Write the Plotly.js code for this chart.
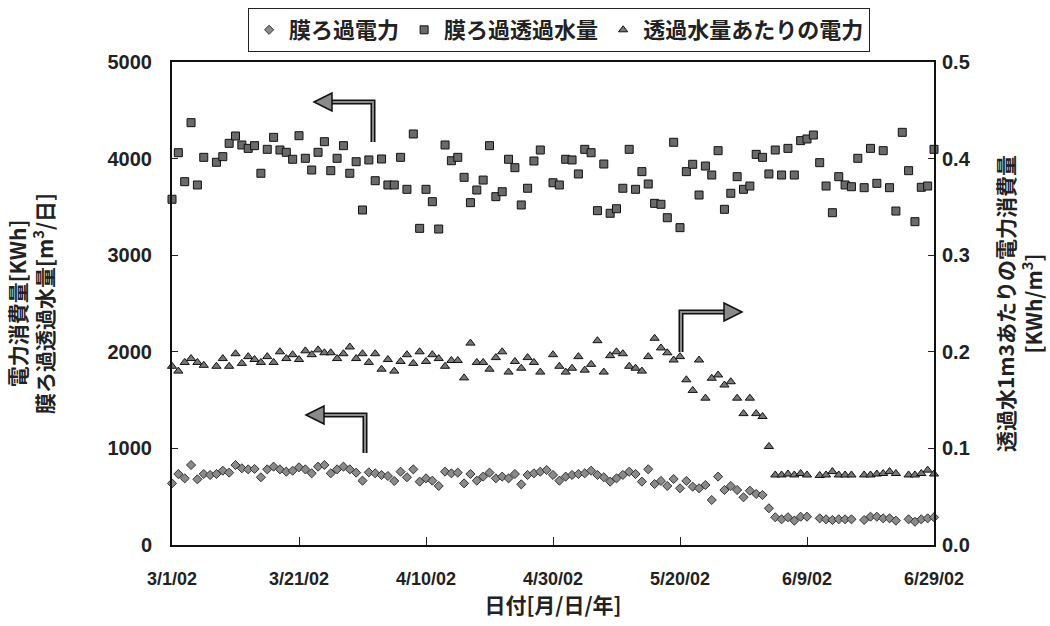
<!DOCTYPE html>
<html>
<head>
<meta charset="utf-8">
<script src="https://cdn.plot.ly/plotly-3.0.1.min.js"></script>
<style>html,body{margin:0;padding:0;background:#fff;}#chart{width:1050px;height:626px;}</style>
</head>
<body>
<div id="chart"></div>
<script>
// ---- data (index = day offset from 2002-03-01) ----
const startDate = '2002-03-01';
const dayCount = 121;

const seriesNames = ['膜ろ過電力', '膜ろ過透過水量', '透過水量あたりの電力'];

// 膜ろ過電力 [KWh]
const powerKWh = [
  638, 735, 690, 828, 680, 735, 725, 735, 769, 749,
  828, 794, 783, 787, 701, 783, 811, 783, 759, 769,
  804, 783, 742, 811, 828, 742, 783, 811, 783, 749,
  666, 752, 742, 725, 714, 663, 759, 701, 783, 656,
  690, 666, 611, 759, 742, 749, 638, 735, 666, 708,
  749, 690, 708, 690, 735, 628, 725, 742, 759, 776,
  725, 666, 708, 725, 735, 742, 769, 725, 701, 656,
  690, 725, 759, 735, 656, 784, 631, 663, 611, 683,
  587, 663, 604, 587, 621, 466, 708, 569, 611, 569,
  494, 562, 528, 518, 380, 287, 266, 287, 252, 293,
  293, null, 276, 266, 259, 266, 266, 266, null, 259,
  293, 293, 276, 276, 252, null, 266, 241, 266, 276,
  287
];

// 膜ろ過透過水量 [m3/日]
const waterM3 = [
  3579, 4061, 3761, 4372, 3727, 4013, null, 3962, 4020, 4158,
  4234, 4141, 4106, 4134, 3848, 4096, 4220, 4089, 4065, 3993,
  4237, 4003, 3882, 4065, 4175, 3875, 4003, 4134, 3848, 3968,
  3468, 3986, 3771, 3996, 3727, 3727, 4013, 3682, 4255, 3278,
  3682, 3554, 3271, 4141, 3978, 4013, 3806, 3544, 3675, 3778,
  4134, 3606, 3657, 3993, 3906, 3520, 3693, 3975, 4089, null,
  3750, 3727, 3993, 3986, 3841, 4096, 4061, 3461, 3944, 3434,
  3481, 3693, 4096, 3682, 3865, 3737, 3537, 3527, 3388, 4169,
  3285, 3865, 3941, 3623, 3923, 3830, 4082, 3475, 3641, 3813,
  3682, 3716, 4044, 4013, 3841, 4089, 3830, 4106, 3830, 4186,
  4203, 4244, 3958, 3716, 3440, 3813, 3727, 3709, 4003, 3699,
  4106, 3744, 4082, 3699, 3457, 4272, 3875, 3347, 3703, 3716,
  4096
];

// 透過水量あたりの電力 [KWh/m3]
const powerPerM3 = [
  0.185, 0.180, 0.189, 0.193, 0.189, 0.186, null, 0.185, 0.193, 0.185,
  0.198, 0.188, 0.195, 0.192, 0.189, 0.195, 0.189, 0.200, 0.193, 0.197,
  0.192, 0.201, 0.197, 0.202, 0.199, 0.199, 0.193, 0.198, 0.205, 0.193,
  0.198, 0.189, 0.198, 0.182, 0.192, 0.180, 0.190, 0.197, 0.188, 0.200,
  0.190, 0.197, 0.193, 0.185, 0.191, 0.191, 0.173, 0.209, 0.189, 0.189,
  0.182, 0.194, 0.200, 0.179, 0.190, 0.183, 0.194, 0.189, 0.179, null,
  0.197, 0.185, 0.179, 0.183, 0.195, 0.181, 0.187, 0.2115, 0.179, 0.196,
  0.200, 0.198, 0.185, 0.183, 0.180, 0.195, 0.214, 0.204, 0.199, 0.1915,
  0.195, 0.171, 0.160, 0.1915, 0.152, 0.1726, 0.176, 0.1656, 0.169, 0.152,
  0.136, 0.152, 0.136, 0.133, 0.102, 0.0725, 0.0725, 0.0735, 0.0725, 0.074,
  0.0725, null, 0.072, 0.0725, 0.076, 0.0725, 0.0725, 0.0725, null, 0.0725,
  0.0725, 0.0735, 0.074, 0.076, 0.074, null, 0.0725, 0.0725, 0.074, 0.0775,
  0.0735
];

const xTickVals = ['2002-03-01','2002-03-21','2002-04-10','2002-04-30','2002-05-20','2002-06-09','2002-06-29'];
const xTickText = ['3/1/02','3/21/02','4/10/02','4/30/02','5/20/02','6/9/02','6/29/02'];
const yLeftTicks = [0, 1000, 2000, 3000, 4000, 5000];
const yRightTicks = [0, 0.1, 0.2, 0.3, 0.4, 0.5];

// ---- x domain: consecutive calendar days ----
const dates = [];
{
  const d0 = new Date(startDate + 'T00:00:00Z');
  for (let i = 0; i < dayCount; i++) {
    const d = new Date(d0.getTime() + i * 86400000);
    dates.push(d.toISOString().slice(0, 10));
  }
}

const FONT = 'Liberation Sans, Arial, "Noto Sans CJK JP", sans-serif';
const CJK = '"Noto Sans CJK JP", "Liberation Sans", sans-serif';
const TXT = '#222';

const traces = [
  {
    x: dates, y: powerKWh, name: seriesNames[0], type: 'scatter', mode: 'markers',
    cliponaxis: false,
    marker: {symbol: 'diamond', size: 7, color: '#8a8a8a', line: {color: '#333', width: 1}}
  },
  {
    x: dates, y: waterM3, name: seriesNames[1], type: 'scatter', mode: 'markers',
    cliponaxis: false,
    marker: {symbol: 'square', size: 8, color: '#6a6a6a', line: {color: '#111', width: 1}}
  },
  {
    x: dates, y: powerPerM3, name: seriesNames[2], type: 'scatter', mode: 'markers',
    yaxis: 'y2', cliponaxis: false,
    marker: {symbol: 'triangle-up', size: 8, color: '#777', line: {color: '#111', width: 1}}
  }
];

// ---- helper arrows (pixel -> paper) ----
const L = 172, R = 934, T = 62, B = 545;
const px = x => (x - L) / (R - L);
const py = y => (B - y) / (B - T);
function pathOf(pts, close) {
  return pts.map((p, i) => (i ? 'L' : 'M') + px(p[0]).toFixed(5) + ',' + py(p[1]).toFixed(5)).join(' ') + (close ? ' Z' : '');
}
function arrow(pts, head) {
  return [
    {type: 'path', xref: 'paper', yref: 'paper', path: pathOf(pts), line: {color: '#111', width: 5}, layer: 'above'},
    {type: 'path', xref: 'paper', yref: 'paper', path: pathOf(pts), line: {color: '#8a8a8a', width: 2}, layer: 'above'},
    {type: 'path', xref: 'paper', yref: 'paper', path: pathOf(head, true), fillcolor: '#8a8a8a', line: {color: '#111', width: 1.5}, layer: 'above'}
  ];
}
const shapes = [].concat(
  arrow([[373,142],[373,102],[331,102]], [[314,102],[332,93],[332,111]]),
  arrow([[365,453],[365,415],[323,415]], [[306,415],[324,406],[324,424]]),
  arrow([[681,352],[681,312],[725,312]], [[742,312],[724,303],[724,321]])
);

const layout = {
  width: 1050, height: 626,
  margin: {l: L, r: 1050 - R, t: T, b: 626 - B, autoexpand: false},
  paper_bgcolor: '#fff', plot_bgcolor: '#fff',
  font: {family: FONT, color: TXT},
  showlegend: true,
  legend: {
    orientation: 'h', x: 0.508, xanchor: 'center', y: py(8), yanchor: 'top',
    bgcolor: '#fff', bordercolor: '#222', borderwidth: 1,
    font: {family: CJK, size: 22, weight: 'bold', color: TXT},
    itemwidth: 30, tracegroupgap: 0
  },
  xaxis: {
    type: 'date', range: ['2002-03-01', '2002-06-29'],
    tickmode: 'array', tickvals: xTickVals, ticktext: xTickText,
    ticks: 'inside', ticklen: 8, tickcolor: '#222',
    ticklabelstandoff: 16,
    showline: true, linecolor: '#111', linewidth: 2, mirror: true,
    showgrid: false, zeroline: false,
    tickfont: {family: FONT, size: 18, weight: 'bold', color: TXT},
    title: {text: '日付[月/日/年]', font: {family: CJK, size: 21, weight: 'bold', color: TXT}, standoff: 6}
  },
  yaxis: {
    range: [0, 5000], tickmode: 'array', tickvals: yLeftTicks,
    ticks: 'inside', ticklen: 6, tickcolor: '#222',
    ticklabelstandoff: 14,
    showline: true, linecolor: '#111', linewidth: 2,
    showgrid: false, zeroline: false,
    tickfont: {family: FONT, size: 20, weight: 'bold', color: TXT},
    title: {text: '電力消費量[KWh]<br>膜ろ過透過水量[m<sup>3</sup>/日]', font: {family: CJK, size: 21, weight: 'bold', color: TXT}, standoff: 48}
  },
  yaxis2: {
    overlaying: 'y', side: 'right', range: [0, 0.5],
    tickmode: 'array', tickvals: yRightTicks, tickformat: '.1f',
    ticks: 'inside', ticklen: 6, tickcolor: '#222',
    ticklabelstandoff: 2,
    showline: true, linecolor: '#111', linewidth: 2,
    showgrid: false, zeroline: false,
    tickfont: {family: FONT, size: 20, weight: 'bold', color: TXT},
    title: {text: '透過水1m3あたりの電力消費量<br>[KWh/m<sup>3</sup>]', font: {family: CJK, size: 21, weight: 'bold', color: TXT}, standoff: 30}
  },
  shapes: shapes
};

Plotly.newPlot('chart', traces, layout, {displayModeBar: false, staticPlot: true});
</script>
</body>
</html>
